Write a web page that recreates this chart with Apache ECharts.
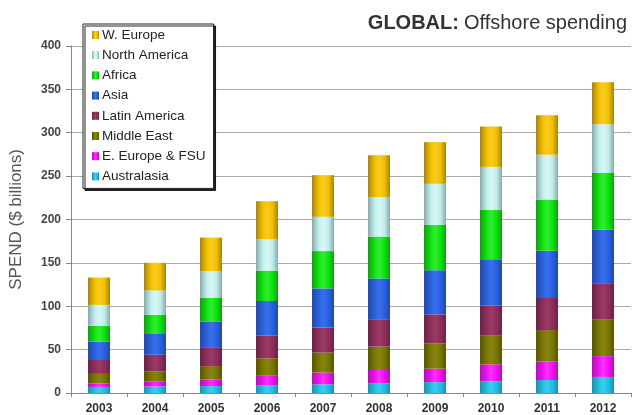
<!DOCTYPE html>
<html>
<head>
<meta charset="utf-8">
<script src="https://cdn.jsdelivr.net/npm/echarts@6/dist/echarts.min.js"></script>
<style>
html,body{margin:0;padding:0;background:#fff;}
#c{width:634px;height:415px;}
</style>
</head>
<body>
<div id="c"></div>
<script>
var years = ['2003','2004','2005','2006','2007','2008','2009','2010','2011','2012'];
var australasia   = [7, 7.5, 8, 9, 10, 11, 12.5, 13.5, 15, 18.5];
var eEuropeFSU    = [4, 5.5, 7.5, 11.5, 13.5, 15.5, 15.5, 19.5, 21.5, 24];
var middleEast    = [11, 12, 15.5, 19.5, 23, 27, 29, 33, 36, 42];
var latinAmerica  = [16, 19, 21, 26, 29, 31.5, 33.5, 34.5, 37, 42];
var asia          = [21, 24, 30.5, 40, 45, 47, 51, 53.5, 54.5, 61.5];
var africa        = [18.5, 22, 27, 35, 43, 48, 52, 57, 59, 65.5];
var northAmerica  = [24, 28, 31, 36, 39.5, 45.5, 47.5, 49.5, 51.5, 56];
var wEurope       = [31.5, 32, 38.5, 44, 48, 48.5, 48, 46.5, 45.5, 48.5];
var yTicks = [0, 50, 100, 150, 200, 250, 300, 350, 400];

function grad(edge, base, hi) {
  return new echarts.graphic.LinearGradient(0, 0, 1, 0, [
    {offset: 0, color: edge},
    {offset: 0.3, color: base},
    {offset: 0.5, color: hi},
    {offset: 0.75, color: base},
    {offset: 1, color: edge}
  ]);
}

var seriesDefs = [
  {name: 'Australasia', data: australasia, c: grad('#1a8fb0', '#22bde0', '#3ccdf0')},
  {name: 'E. Europe & FSU', data: eEuropeFSU, c: grad('#b010b0', '#ee10ee', '#ff30ff')},
  {name: 'Middle East', data: middleEast, c: grad('#555500', '#777700', '#858510')},
  {name: 'Latin America', data: latinAmerica, c: grad('#6a2244', '#8c2e5a', '#9a3a66')},
  {name: 'Asia', data: asia, c: grad('#2048a8', '#2a60dd', '#3a70ee')},
  {name: 'Africa', data: africa, c: grad('#10a010', '#10e010', '#30f030')},
  {name: 'North America', data: northAmerica, c: grad('#88a8a8', '#c2ecec', '#d8f8f8')},
  {name: 'W. Europe', data: wEurope, c: grad('#a88410', '#f0be00', '#f8cc20')}
];

var series = seriesDefs.map(function (s) {
  return {
    name: s.name,
    type: 'bar',
    stack: 'total',
    barWidth: 22,
    data: s.data,
    itemStyle: {color: s.c},
    emphasis: {disabled: true}
  };
});

var chart = echarts.init(document.getElementById('c'), null, {renderer: 'canvas'});
chart.setOption({
  animation: false,
  backgroundColor: '#fff',
  textStyle: {fontFamily: 'Liberation Sans, Arial, sans-serif'},
  title: {
    text: '{b|GLOBAL:} {n|Offshore spending}',
    right: 2,
    top: 8,
    textStyle: {
      fontWeight: 'normal',
      rich: {
        b: {fontSize: 20, fontWeight: 'bold', color: '#333', fontFamily: 'Liberation Sans'},
        n: {fontSize: 20, fontWeight: 'normal', color: '#333', fontFamily: 'Liberation Sans'}
      }
    }
  },
  legend: {
    orient: 'vertical',
    left: 83,
    top: 24,
    data: ['W. Europe', 'North America', 'Africa', 'Asia', 'Latin America', 'Middle East', 'E. Europe & FSU', 'Australasia'],
    icon: 'rect',
    itemWidth: 7,
    itemHeight: 8,
    itemGap: 4.2,
    padding: [3, 8, 4, 9],
    backgroundColor: '#fff',
    borderColor: '#222',
    borderWidth: 1,
    shadowColor: 'rgba(0,0,0,0.85)',
    shadowBlur: 0,
    shadowOffsetX: 2,
    shadowOffsetY: 2,
    textStyle: {fontSize: 13.5, lineHeight: 16, color: '#222', padding: [0, 0, 0, -2], fontFamily: 'Liberation Sans'}
  },
  grid: {left: 71, right: 3, top: 45.8, bottom: 22, containLabel: false},
  xAxis: {
    type: 'category',
    data: years,
    axisLine: {lineStyle: {color: '#888'}},
    axisTick: {show: true, length: 4, lineStyle: {color: '#888'}},
    axisLabel: {fontSize: 12, color: '#333', margin: 10, fontWeight: 'bold', fontFamily: 'Liberation Sans'}
  },
  yAxis: {
    type: 'value',
    min: yTicks[0],
    max: yTicks[yTicks.length - 1],
    interval: 50,
    name: 'SPEND ($ billions)',
    nameLocation: 'middle',
    nameGap: 46,
    nameTextStyle: {fontSize: 17, color: '#555', fontFamily: 'Liberation Sans'},
    axisLine: {show: true, lineStyle: {color: '#888'}},
    axisTick: {show: true, length: 5, lineStyle: {color: '#888'}},
    axisLabel: {fontSize: 12, color: '#444', margin: 10, fontWeight: 'bold', fontFamily: 'Liberation Sans'},
    splitLine: {show: true, lineStyle: {color: '#aaa'}}
  },
  series: series
});
</script>
</body>
</html>
